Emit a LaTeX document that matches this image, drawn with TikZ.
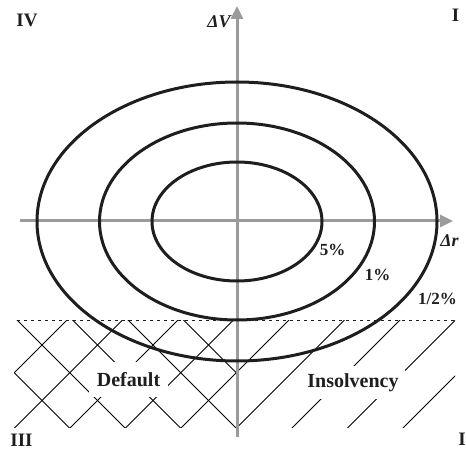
\documentclass[tikz,border=0pt]{standalone}
\usepackage{fontspec}
\setmainfont{Liberation Serif}
\usetikzlibrary{arrows.meta}
\definecolor{axisgray}{RGB}{155,155,155}
\definecolor{inkblack}{RGB}{30,30,30}
\begin{document}
\begin{tikzpicture}[x=1pt,y=-1pt,
  axis/.style={draw=axisgray,line width=3pt,-{Triangle[length=13pt,width=12pt]}},
  ring/.style={draw=inkblack,line width=3pt},
  hatchline/.style={draw=black,line width=0.8pt},
  zone/.style={font=\fontsize{20}{20}\selectfont\bfseries,fill=white,text=inkblack},
  quad/.style={font=\fontsize{19}{19}\selectfont\bfseries,inner sep=0pt,anchor=base,text=inkblack},
  pct/.style={font=\fontsize{17}{17}\selectfont\bfseries,inner sep=0pt,anchor=base,text=inkblack},
  axlabel/.style={font=\fontsize{18}{18}\selectfont\bfseries\itshape,inner sep=0pt,anchor=base,text=inkblack},
  dotline/.style={draw=inkblack,line width=0.8pt,dash pattern=on 3pt off 4pt}
]
\useasboundingbox (0,0) rectangle (466,449);
% hatching: crossing lines on the left
\begin{scope}
  \clip (14,320) rectangle (237,427);
  \foreach \c in {-358.5,-303,-247.5,-192,-136.5}
    \draw[hatchline] ({\c+300},300) -- ({\c+450},450);
\end{scope}
\begin{scope}
  \clip (14,320) rectangle (455,427);
  \foreach \d in {387,442.5,498,553.5,609,664.5,720,775.5,831}
    \draw[hatchline] ({\d-300},300) -- ({\d-450},450);
\end{scope}
\node[zone,inner xsep=7.5pt,inner ysep=10pt] (default) at (128.5,379.5) {Default};
\node[zone,inner xsep=6pt,inner ysep=7.5pt] (insolv) at (353,382.5) {Insolvency};
% dotted boundary
\coordinate (dotl) at (17,320);
\coordinate (dotr) at (457,320);
\draw[dotline] (dotl) -- (dotr);
% axes
\coordinate (hx0) at (20,221);
\coordinate (hx1) at (453,221);
\coordinate (vy0) at (237,437);
\coordinate (vy1) at (237,6);
\draw[axis] (hx0) -- (hx1);
\draw[axis] (vy0) -- (vy1);
% ellipses
\coordinate (o) at (237,221.5);
\draw[ring] (o) ellipse [x radius=200pt, y radius=139.5pt];
\draw[ring] (o) ellipse [x radius=137.5pt, y radius=98.5pt];
\draw[ring] (o) ellipse [x radius=85pt, y radius=59.5pt];
% labels
\node[quad] (q4) at (27,27) {IV};
\node[quad] (q1t) at (455.5,22) {I};
\node[quad] (q3) at (21.5,446) {III};
\node[quad] (q1b) at (462,445.5) {I};
\node[axlabel] (dV) at (219,28) {ΔV};
\node[axlabel] (dR) at (449.5,247) {Δr};
\node[pct] (p5) at (332.5,256) {5\%};
\node[pct] (p1) at (377.5,280) {1\%};
\node[pct] (p12) at (437.5,304) {1/2\%};
\end{tikzpicture}
\end{document}
